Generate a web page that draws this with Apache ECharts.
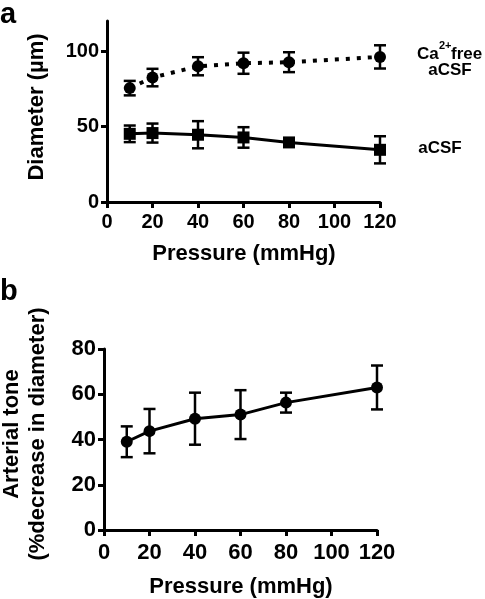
<!DOCTYPE html>
<html><head><meta charset="utf-8">
<script src="https://cdn.jsdelivr.net/npm/echarts@6/dist/echarts.min.js"></script>
<style>html,body{margin:0;padding:0;background:#fff}#c{width:485px;height:599px}</style>
</head><body><div id="c"></div>
<script>
const pressures = [10, 20, 40, 60, 80, 120];
const diamCaFree = [75.5, 82.5, 90, 92, 92.7, 96.2];
const diamCaFreeErr = [4.8, 5.8, 6, 7, 6.6, 7.7];
const diamACSF = [45.2, 45.7, 44.6, 42.8, 39.5, 34.6];
const diamACSFErr = [5.5, 6.3, 9, 6.8, 1.5, 9];
const tone = [39, 43.7, 49.2, 51, 56.3, 63];
const toneErr = [6.8, 9.8, 11.5, 10.8, 4.4, 9.7];
const xTicks = [0, 20, 40, 60, 80, 100, 120];
const yTicksA = [0, 50, 100];
const yTicksB = [0, 20, 40, 60, 80];

const FONT = "'Liberation Sans', Arial, sans-serif";
const K = '#000';

function pts(ys) { return pressures.map((x, i) => [x, ys[i]]); }
function errs(ys, es) { return pressures.map((x, i) => [x, ys[i] - es[i], ys[i] + es[i]]); }

function errRender(params, api) {
  const x = api.value(0), lo = api.value(1), hi = api.value(2);
  const a = api.coord([x, hi]), b = api.coord([x, lo]);
  const hw = 6;
  const st = { stroke: K, lineWidth: 2.5 };
  return { type: 'group', children: [
    { type: 'line', shape: { x1: a[0], y1: a[1], x2: b[0], y2: b[1] }, style: st },
    { type: 'line', shape: { x1: a[0] - hw, y1: a[1], x2: a[0] + hw, y2: a[1] }, style: st },
    { type: 'line', shape: { x1: b[0] - hw, y1: b[1], x2: b[0] + hw, y2: b[1] }, style: st }
  ]};
}

function xAxisCfg(gi, fs, margin) {
  return {
    type: 'value', gridIndex: gi, min: 0, max: 120, interval: 20,
    axisLine: { show: true, lineStyle: { color: K, width: 3 } },
    axisTick: { show: true, length: 6, lineStyle: { color: K, width: 3 }, customValues: xTicks },
    axisLabel: { color: K, fontSize: fs, fontWeight: 'bold', fontFamily: FONT, margin: margin, customValues: xTicks },
    splitLine: { show: false }
  };
}
function yAxisCfg(gi, max, ticks, fs) {
  return {
    type: 'value', gridIndex: gi, min: 0, max: max,
    axisLine: { show: true, lineStyle: { color: K, width: 3 } },
    axisTick: { show: true, length: 6, lineStyle: { color: K, width: 3 }, customValues: ticks },
    axisLabel: { color: K, fontSize: fs, fontWeight: 'bold', fontFamily: FONT, margin: 8, customValues: ticks },
    splitLine: { show: false }
  };
}

const txt = (text, x, y, fs, extra, align) => Object.assign({
  type: 'text', x: x, y: y,
  style: { text: text, fill: K, font: 'bold ' + fs + 'px ' + FONT, align: align || 'center', verticalAlign: 'middle' }
}, extra || {});

const chart = echarts.init(document.getElementById('c'), null, { renderer: 'canvas' });
chart.setOption({
  animation: false,
  backgroundColor: '#fff',
  grid: [
    { left: 107, top: 21, width: 273, height: 181 },
    { left: 104, top: 349, width: 273, height: 181 }
  ],
  xAxis: [xAxisCfg(0, 20, 10), xAxisCfg(1, 22, 12)],
  yAxis: [yAxisCfg(0, 120, yTicksA, 20), yAxisCfg(1, 80, yTicksB, 22)],
  series: [
    { type: 'custom', xAxisIndex: 0, yAxisIndex: 0, renderItem: errRender, data: errs(diamCaFree, diamCaFreeErr), encode: { x: 0, y: [1, 2] }, clip: false, z: 3 },
    { type: 'custom', xAxisIndex: 0, yAxisIndex: 0, renderItem: errRender, data: errs(diamACSF, diamACSFErr), encode: { x: 0, y: [1, 2] }, clip: false, z: 3 },
    { type: 'custom', xAxisIndex: 1, yAxisIndex: 1, renderItem: errRender, data: errs(tone, toneErr), encode: { x: 0, y: [1, 2] }, clip: false, z: 3 },
    { type: 'line', xAxisIndex: 0, yAxisIndex: 0, data: pts(diamCaFree), symbol: 'circle', symbolSize: 12,
      itemStyle: { color: K }, lineStyle: { color: K, width: 4, type: [4, 7] }, z: 4 },
    { type: 'line', xAxisIndex: 0, yAxisIndex: 0, data: pts(diamACSF), symbol: 'rect', symbolSize: 12,
      itemStyle: { color: K }, lineStyle: { color: K, width: 3 }, z: 4 },
    { type: 'line', xAxisIndex: 1, yAxisIndex: 1, data: pts(tone), symbol: 'circle', symbolSize: 12,
      itemStyle: { color: K }, lineStyle: { color: K, width: 3 }, z: 4 }
  ],
  graphic: [
    { type: 'text', x: 0, y: 0, style: { text: 'a', fill: K, font: 'bold 29px ' + FONT, align: 'left', verticalAlign: 'top' } },
    { type: 'text', x: 0, y: 277, style: { text: 'b', fill: K, font: 'bold 29px ' + FONT, align: 'left', verticalAlign: 'top' } },
    txt('Diameter (µm)', 37, 107, 22, { rotation: Math.PI / 2 }),
    txt('Pressure (mmHg)', 244, 254, 22),
    txt('Arterial tone', 12, 434, 22, { rotation: Math.PI / 2 }),
    txt('(%decrease in diameter)', 38, 434, 22, { rotation: Math.PI / 2 }),
    txt('Pressure (mmHg)', 241, 587, 22),
    txt('Ca', 417, 54, 17, null, 'left'),
    txt('2+', 439, 46, 11, null, 'left'),
    txt('free', 451, 54, 17, null, 'left'),
    txt('aCSF', 450, 70, 17),
    txt('aCSF', 440, 148, 17)
  ]
});
</script></body></html>
